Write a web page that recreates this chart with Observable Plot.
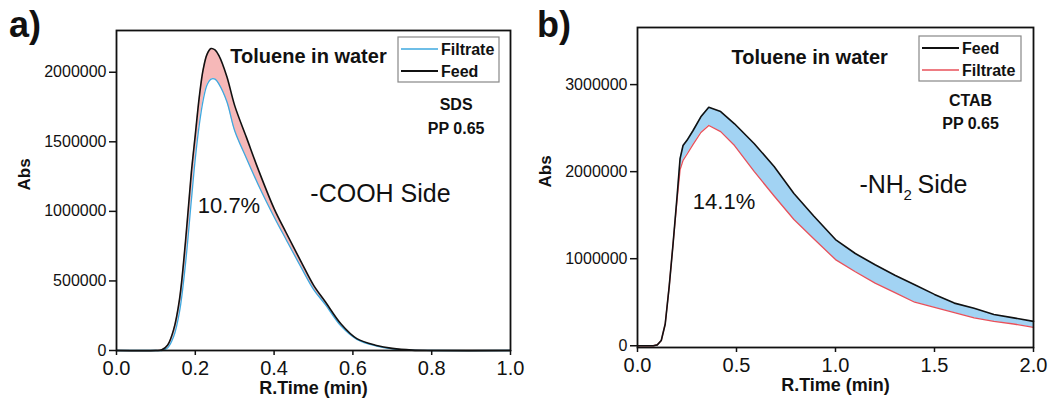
<!DOCTYPE html>
<html>
<head>
<meta charset="utf-8">
<script src="https://cdn.jsdelivr.net/npm/d3@7"></script>
<script src="https://cdn.jsdelivr.net/npm/@observablehq/plot@0.6"></script>
<style>
  html, body { margin: 0; padding: 0; background: white; }
  #wrap { display: flex; width: 1056px; height: 410px; }
  #wrap > div { width: 528px; height: 410px; }
  svg { display: block; }
</style>
</head>
<body>
<div id="wrap"><div id="pa"></div><div id="pb"></div></div>
<script>
// ---------- Panel a) : SDS, -COOH side ----------
const timeA  = [0, 0.10, 0.115, 0.13, 0.145, 0.16, 0.175, 0.19, 0.20, 0.21, 0.22, 0.23, 0.24, 0.25, 0.26, 0.28, 0.30, 0.33, 0.36, 0.40, 0.43, 0.47, 0.50, 0.53, 0.57, 0.61, 0.66, 0.70, 0.75, 0.80, 1.00];
const feedA  = [0, 0, 5000, 40000, 150000, 370000, 780000, 1280000, 1550000, 1820000, 2020000, 2130000, 2170000, 2160000, 2120000, 1970000, 1760000, 1530000, 1300000, 1020000, 850000, 630000, 470000, 350000, 190000, 85000, 36000, 15000, 3000, 0, 0];
const filtA  = [0, 0, 0, 20000, 100000, 280000, 620000, 1080000, 1380000, 1620000, 1800000, 1910000, 1950000, 1950000, 1915000, 1790000, 1580000, 1380000, 1190000, 960000, 800000, 590000, 440000, 330000, 175000, 80000, 32000, 12000, 2000, 0, 0];
const xTicksA = [0, 0.2, 0.4, 0.6, 0.8, 1.0];
const yTicksA = [0, 500000, 1000000, 1500000, 2000000];

// ---------- Panel b) : CTAB, -NH2 side ----------
const timeB  = [0, 0.08, 0.10, 0.12, 0.14, 0.16, 0.18, 0.20, 0.215, 0.23, 0.25, 0.28, 0.32, 0.36, 0.42, 0.49, 0.59, 0.69, 0.79, 0.89, 1.0, 1.1, 1.2, 1.3, 1.4, 1.5, 1.6, 1.7, 1.8, 1.9, 2.0];
const feedB  = [0, 0, 10000, 60000, 250000, 680000, 1180000, 1720000, 2150000, 2300000, 2360000, 2470000, 2630000, 2740000, 2690000, 2550000, 2320000, 2060000, 1750000, 1490000, 1220000, 1060000, 930000, 810000, 700000, 590000, 490000, 430000, 360000, 320000, 280000];
const filtB  = [0, 0, 10000, 60000, 250000, 680000, 1180000, 1680000, 2020000, 2130000, 2200000, 2310000, 2450000, 2530000, 2460000, 2300000, 2000000, 1720000, 1450000, 1230000, 990000, 850000, 720000, 610000, 500000, 440000, 380000, 320000, 280000, 250000, 210000];
const xTicksB = [0, 0.5, 1.0, 1.5, 2.0];
const yTicksB = [0, 1000000, 2000000, 3000000];

const FONT = "'Liberation Sans', Arial, Helvetica, sans-serif";

function rows(t, feed, filt) {
  return t.map((x, i) => ({t: x, feed: feed[i], filt: filt[i]}));
}

function panel({data, width, height, margins, xDomain, yDomain, xTicks, yTicks, fillColor, filtColor, curve, notes}) {
  return Plot.plot({
    width, height,
    marginLeft: margins[0], marginRight: margins[1], marginTop: margins[2], marginBottom: margins[3],
    style: {fontFamily: FONT, color: "#111", background: "white", overflow: "visible"},
    x: {domain: xDomain},
    y: {domain: yDomain},
    marks: [
      Plot.areaY(data, {x: "t", y1: "filt", y2: "feed", fill: fillColor, curve}),
      Plot.lineY(data, {x: "t", y: "filt", stroke: filtColor, strokeWidth: 1.3, curve}),
      Plot.lineY(data, {x: "t", y: "feed", stroke: "#111", strokeWidth: 1.6, curve}),
      Plot.frame({stroke: "#111", strokeWidth: 1.8}),
      Plot.axisX({ticks: xTicks, tickFormat: d3.format(".1f"), tickSize: 5, tickPadding: 5, fontSize: 20, label: null, strokeWidth: 1.5}),
      Plot.axisY({ticks: yTicks, tickFormat: d3.format("d"), tickSize: 7, tickPadding: 3, fontSize: 16, label: null, strokeWidth: 1.5}),
      Plot.text(["R.Time (min)"], {frameAnchor: "bottom", dy: 43, text: d => d, fontSize: 18, fontWeight: "bold"}),
      Plot.text(["Abs"], {frameAnchor: "left", dx: -92, rotate: -90, text: d => d, fontSize: 17, fontWeight: "bold"}),
      ...notes
    ]
  });
}

function addExtras(svg, label, legend) {
  const s = d3.select(svg);
  s.append("text").attr("x", 9).attr("y", 37).attr("text-anchor", "start")
    .attr("font-size", 36).attr("font-weight", "bold")
    .attr("font-family", FONT).attr("fill", "#111").text(label);
  const g = s.append("g");
  g.append("rect").attr("x", legend.x).attr("y", legend.y).attr("width", legend.w).attr("height", legend.h)
    .attr("fill", "white").attr("stroke", "#888").attr("stroke-width", 1.2);
  legend.items.forEach((it, i) => {
    const yy = legend.y + 12 + i * 22;
    g.append("line").attr("x1", legend.x + 3).attr("x2", legend.x + 40).attr("y1", yy).attr("y2", yy)
      .attr("stroke", it.color).attr("stroke-width", it.color === "#111" ? 1.8 : 1.6);
    g.append("text").attr("x", legend.x + 43).attr("y", yy).attr("dy", "0.35em").attr("text-anchor", "start")
      .attr("font-size", 16).attr("font-weight", "bold").attr("font-family", FONT).attr("fill", "#111").text(it.name);
  });
}

const bold = {fontWeight: "bold", fill: "#111"};

// Panel a
const svgA = panel({
  data: rows(timeA, feedA, filtA), width: 528, height: 410, margins: [116, 18, 30, 60],
  xDomain: [0, 1], yDomain: [0, 2300000], xTicks: xTicksA, yTicks: yTicksA,
  fillColor: "#f6b8b8", filtColor: "#3ea8df", curve: "catmull-rom",
  notes: [
    Plot.text(["Toluene in water"], {x: 0.289, y: 2112000, text: d => d, textAnchor: "start", fontSize: 20, ...bold}),
    Plot.text(["SDS"], {x: 0.862, y: 1767000, text: d => d, fontSize: 16, ...bold}),
    Plot.text(["PP 0.65"], {x: 0.862, y: 1595000, text: d => d, fontSize: 16, ...bold}),
    Plot.text(["-COOH Side"], {x: 0.492, y: 1128000, text: d => d, textAnchor: "start", fontSize: 25, fill: "#111"}),
    Plot.text(["10.7%"], {x: 0.2855, y: 1042000, text: d => d, fontSize: 22, fill: "#111"})
  ]
});
addExtras(svgA, "a)", {x: 398, y: 37, w: 101, h: 45, items: [{name: "Filtrate", color: "#3ea8df"}, {name: "Feed", color: "#111"}]});
document.getElementById("pa").appendChild(svgA);

// Panel b
const svgB = panel({
  data: rows(timeB, feedB, filtB), width: 528, height: 410, margins: [109, 23, 27, 63],
  xDomain: [0, 2], yDomain: [-20000, 3656000], xTicks: xTicksB, yTicks: yTicksB,
  fillColor: "#a2d3f3", filtColor: "#e8505a", curve: "linear",
  notes: [
    Plot.text(["Toluene in water"], {x: 0.475, y: 3316000, text: d => d, textAnchor: "start", fontSize: 20, ...bold}),
    Plot.text(["CTAB"], {x: 1.682, y: 2809000, text: d => d, fontSize: 16, ...bold}),
    Plot.text(["PP 0.65"], {x: 1.682, y: 2545000, text: d => d, fontSize: 16, ...bold}),
    Plot.text(["-NH"], {x: 1.121, y: 1847000, text: d => d, textAnchor: "start", fontSize: 25, fill: "#111"}),
    Plot.text(["2"], {x: 1.121, y: 1847000, dx: 44, dy: 10, text: d => d, textAnchor: "start", fontSize: 15, fill: "#111"}),
    Plot.text(["Side"], {x: 1.121, y: 1847000, dx: 58, text: d => d, textAnchor: "start", fontSize: 25, fill: "#111"}),
    Plot.text(["14.1%"], {x: 0.437, y: 1655000, text: d => d, fontSize: 22, fill: "#111"})
  ]
});
addExtras(svgB, "b)", {x: 391, y: 36, w: 102, h: 45, items: [{name: "Feed", color: "#111"}, {name: "Filtrate", color: "#e8505a"}]});
document.getElementById("pb").appendChild(svgB);
</script>
</body>
</html>
